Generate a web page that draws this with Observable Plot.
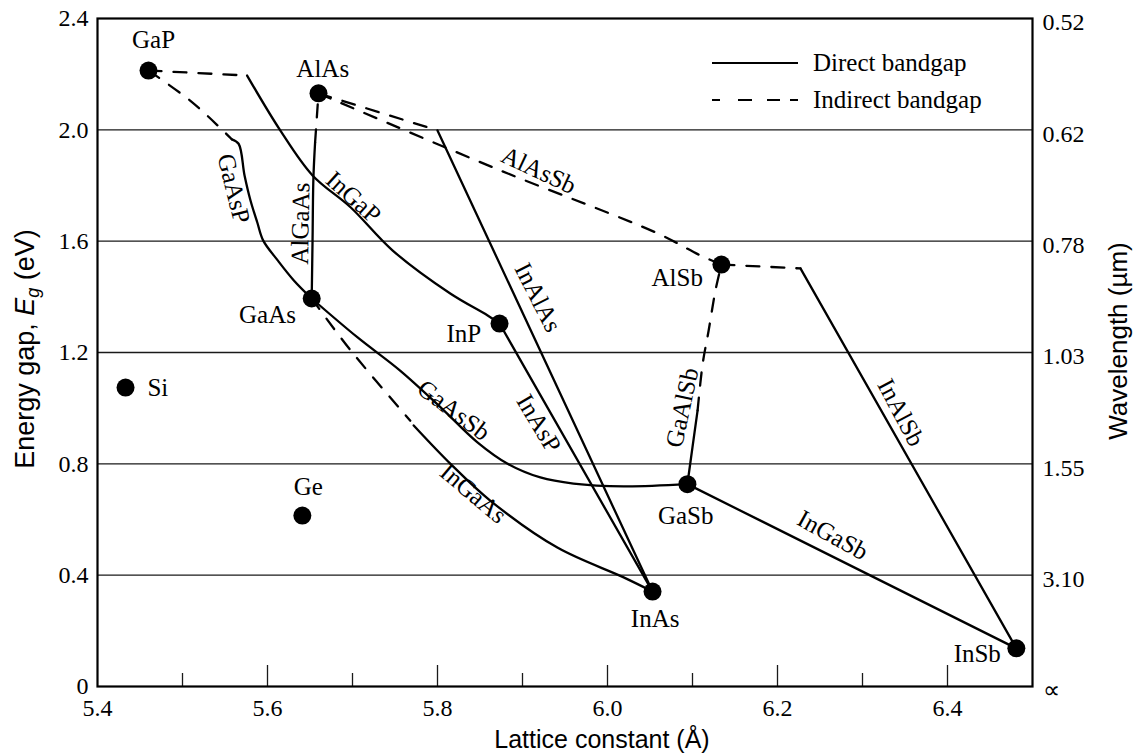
<!DOCTYPE html>
<html><head><meta charset="utf-8">
<script src="https://cdn.jsdelivr.net/npm/d3@7"></script>
<script src="https://cdn.jsdelivr.net/npm/@observablehq/plot@0.6"></script>
<style>
html,body{margin:0;padding:0;background:#fff;}
#chart{position:relative;width:1135px;height:753px;}
#chart svg text, #chart svg tspan { font-family: "Liberation Serif", "Times New Roman", serif !important; }
#chart svg text.sans-title, #chart svg text.sans-title tspan { font-family: "Liberation Sans", Arial, sans-serif !important; }
</style>
</head><body><div id="chart"></div>
<script>
// ---- axis ticks ----
const xMajor = [5.4, 5.6, 5.8, 6.0, 6.2, 6.4];
const xMinor = [5.5, 5.7, 5.9, 6.1, 6.3];
const energyTicks = [0, 0.4, 0.8, 1.2, 1.6, 2.0, 2.4];
const wavelengthLabels = ["\u221d", "3.10", "1.55", "1.03", "0.78", "0.62", "0.52"];
const gridEnergy = [0.4, 0.8, 1.2, 1.6, 2.0];

// ---- binary compounds / elements ----
const compounds = ["GaP", "AlAs", "GaAs", "InP", "AlSb", "GaSb", "InAs", "InSb", "Si", "Ge"];
const latticeA = [5.46, 5.66, 5.652, 5.873, 6.134, 6.094, 6.053, 6.481, 5.433, 5.641];
const gapEg = [2.213, 2.131, 1.394, 1.304, 1.516, 0.727, 0.341, 0.137, 1.074, 0.614];
const compLabelX = [5.466, 5.665, 5.600, 5.831, 6.082, 6.092, 6.056, 6.435, 5.471, 5.648];
const compLabelY = [2.321, 2.220, 1.333, 1.268, 1.469, 0.614, 0.244, 0.115, 1.071, 0.715];

// ---- alloy labels ----
const alloys = ["GaAsP", "AlGaAs", "InGaP", "AlAsSb", "InAlAs", "InAsP", "GaAsSb", "InGaAs", "GaAlSb", "InAlSb", "InGaSb"];
const alloyLabelX = [5.560, 5.639, 5.701, 5.919, 5.918, 5.919, 5.819, 5.842, 6.088, 6.345, 6.265];
const alloyLabelY = [1.789, 1.663, 1.757, 1.854, 1.398, 0.945, 0.992, 0.693, 1.002, 0.984, 0.543];
const alloyAngle = [76, -89, 42, 25, 63, 59, 37, 40, -78, 62, 29];

// ---- direct bandgap curves (solid) ----
const GaAsP_direct = [[5.558,1.966],[5.566,1.950],[5.573,1.836],[5.580,1.746],[5.588,1.667],[5.595,1.602],[5.612,1.531],[5.631,1.459],[5.652,1.394]];
const AlGaAs_direct = [[5.652,1.394],[5.653,1.602],[5.654,1.825],[5.656,1.955]];
const InGaP_direct = [[5.576,2.195],[5.615,1.998],[5.653,1.836],[5.698,1.721],[5.747,1.567],[5.815,1.412],[5.859,1.333],[5.873,1.304]];
const InAlAs_direct = [[5.800,1.998],[6.053,0.341]];
const InAsP_direct = [[5.873,1.304],[6.053,0.341]];
const GaAsSb_direct = [[5.652,1.394],[5.706,1.254],[5.756,1.135],[5.804,1.002],[5.847,0.877],[5.882,0.801],[5.921,0.751],[5.960,0.729],[6.019,0.719],[6.094,0.727]];
const InGaAs_direct = [[5.772,0.938],[5.815,0.801],[5.862,0.668],[5.941,0.499],[6.019,0.392],[6.053,0.341]];
const GaAlSb_direct = [[6.094,0.727],[6.100,0.860],[6.106,0.992]];
const InAlSb_direct = [[6.227,1.502],[6.481,0.137]];
const InGaSb_direct = [[6.094,0.727],[6.481,0.137]];

// ---- indirect bandgap curves (dashed) ----
const GaP_InGaP_indirect = [[5.460,2.213],[5.576,2.195]];
const GaAsP_indirect = [[5.460,2.213],[5.509,2.105],[5.545,2.005],[5.558,1.966]];
const AlGaAs_indirect = [[5.656,1.955],[5.660,2.131]];
const InAlAs_indirect = [[5.660,2.131],[5.800,1.998]];
const AlAsSb_indirect = [[5.660,2.131],[5.874,1.854],[6.059,1.628],[6.109,1.549],[6.134,1.516]];
const InGaAs_indirect = [[5.652,1.394],[5.698,1.207],[5.768,0.955]];
const GaAlSb_indirect = [[6.106,0.992],[6.112,1.160],[6.119,1.279],[6.127,1.423],[6.134,1.516]];
const InAlSb_indirect = [[6.134,1.516],[6.227,1.502]];

const legendNames = ["Direct bandgap", "Indirect bandgap"];
const xTitle = "Lattice constant (\u00c5)";
const rightTitle = "Wavelength (\u00b5m)";

// ---- build tables ----
function rows(list) {
  const out = [];
  list.forEach((pts, id) => pts.forEach(([x, y]) => out.push({id, x, y})));
  return out;
}
const directRows = rows([GaAsP_direct, AlGaAs_direct, InGaP_direct, InAlAs_direct, InAsP_direct, GaAsSb_direct, InGaAs_direct, GaAlSb_direct, InAlSb_direct, InGaSb_direct]);
const indirectRows = rows([GaP_InGaP_indirect, GaAsP_indirect, AlGaAs_indirect, InAlAs_indirect, AlAsSb_indirect, InGaAs_indirect, GaAlSb_indirect, InAlSb_indirect]);
const pointRows = compounds.map((name, i) => ({name, x: latticeA[i], y: gapEg[i]}));
const compLabelRows = compounds.map((name, i) => ({name, x: compLabelX[i], y: compLabelY[i]}));
const alloyRows = alloys.map((name, i) => ({name, x: alloyLabelX[i], y: alloyLabelY[i], r: alloyAngle[i]}));

const plot = Plot.plot({
  width: 1135, height: 753,
  marginLeft: 97, marginRight: 103, marginTop: 18, marginBottom: 67,
  x: {domain: [5.4, 6.5]},
  y: {domain: [0, 2.4]},
  style: {fontSize: "24px", background: "white", color: "black", overflow: "visible"},
  marks: [
    Plot.ruleY(gridEnergy, {stroke: "#1a1a1a", strokeWidth: 1.3}),
    Plot.tickX(xMajor.slice(1), {x: d => d, insetTop: 647, stroke: "#1a1a1a", strokeWidth: 1.3}),
    Plot.tickX(xMinor, {x: d => d, insetTop: 655, stroke: "#1a1a1a", strokeWidth: 1.3}),
    Plot.line(directRows, {x: "x", y: "y", z: "id", curve: "catmull-rom", stroke: "black", strokeWidth: 2.3}),
    Plot.line(indirectRows, {x: "x", y: "y", z: "id", curve: "catmull-rom", stroke: "black", strokeWidth: 2.3, strokeDasharray: "13,12"}),
    Plot.dot(pointRows, {x: "x", y: "y", r: 9, fill: "black", stroke: "none"}),
    Plot.text(compLabelRows, {x: "x", y: "y", text: "name", fontSize: 25, fill: "black"}),
    Plot.text(alloyRows, {x: "x", y: "y", text: "name", rotate: "r", fontSize: 25, fill: "black"}),
    Plot.frame({stroke: "black", strokeWidth: 2.2}),
    Plot.axisX({ticks: xMajor, tickSize: 0, tickPadding: 12, tickFormat: d => d.toFixed(1), label: null, fontSize: 24}),
    Plot.axisY({anchor: "left", ticks: energyTicks, tickSize: 0, tickPadding: 9, tickFormat: d => d === 0 ? "0" : d.toFixed(1), label: null, fontSize: 24}),
    Plot.axisY({anchor: "right", ticks: energyTicks, tickSize: 0, tickPadding: 10, tickFormat: d => wavelengthLabels[energyTicks.indexOf(d)], label: null, fontSize: 24, dy: 4})
  ]
});
document.getElementById("chart").appendChild(plot);

const svg = d3.select(plot);

// x title
svg.append("text").attr("class", "sans-title")
  .attr("x", 602).attr("y", 739).attr("dy", "0.35em")
  .attr("text-anchor", "middle")
  .attr("font-size", 25).attr("fill", "black")
  .text(xTitle);
// y title with subscript
const yt = svg.append("text").attr("class", "sans-title")
  .attr("transform", "translate(34,349) rotate(-90)")
  .attr("text-anchor", "middle")
  .attr("font-size", 27).attr("fill", "black");
yt.append("tspan").text("Energy gap, ");
yt.append("tspan").attr("font-style", "italic").text("E");
yt.append("tspan").attr("font-style", "italic").attr("font-size", 18).attr("dy", 5).text("g");
yt.append("tspan").attr("dy", -5).text(" (eV)");
// right title
svg.append("text").attr("class", "sans-title")
  .attr("transform", "translate(1127,341) rotate(-90)")
  .attr("text-anchor", "middle")
  .attr("font-size", 26).attr("fill", "black")
  .text(rightTitle);
// legend
const lg = svg.append("g");
legendNames.forEach((name, i) => {
  const y = 63 + i * 37;
  lg.append("line").attr("x1", 712).attr("x2", 798).attr("y1", y).attr("y2", y)
    .attr("stroke", "black").attr("stroke-width", 2.2)
    .attr("stroke-dasharray", i === 1 ? "8,18,14,15,13,10,8" : null);
  lg.append("text").attr("x", 813).attr("y", y).attr("dy", "0.32em")
    .attr("text-anchor", "start")
    .attr("font-size", 25).attr("fill", "black").text(name);
});
</script>
</body></html>
